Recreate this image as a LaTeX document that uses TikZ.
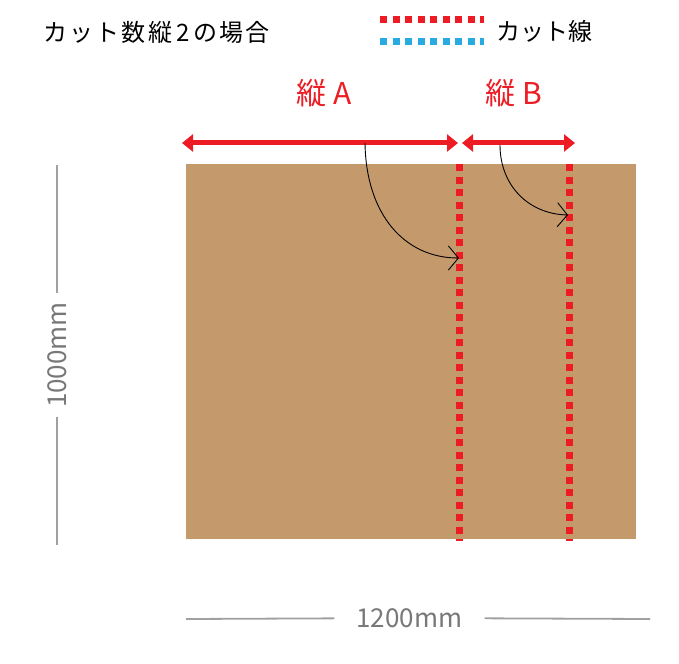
\documentclass[tikz,border=0pt]{standalone}
\usepackage{fontspec}
\setmainfont{Noto Sans CJK JP}
\usetikzlibrary{arrows.meta}
\definecolor{cardboard}{RGB}{196,154,108}
\definecolor{cutred}{RGB}{237,28,36}
\definecolor{cutblue}{RGB}{41,171,226}
\definecolor{dimline}{RGB}{160,160,160}
\definecolor{dimtext}{RGB}{120,120,120}

\begin{document}
\begin{tikzpicture}[x=1pt, y=-1pt,
  cut line/.style={line width=7pt, dash pattern=on 7pt off 5.5pt},
  span arrow/.style={draw=cutred, line width=5pt, {Triangle[length=11pt,width=17pt]}-{Triangle[length=11pt,width=17pt]}},
  turn arrow/.style={draw=black, line width=0.9pt, -{Straight Barb[length=10pt,width=24pt]}},
  dim line/.style={draw=dimline, line width=1.8pt},
  dim label/.style={text=dimtext, font=\fontsize{26}{28}\selectfont}]
\useasboundingbox (0,0) rectangle (679,663);

% title and legend
\node[anchor=west, font=\fontsize{24}{26}\selectfont\addfontfeature{LetterSpace=9}] (title) at (40,32) {カット数縦\,2\,の場合};
\draw[cut line, draw=cutred] (380,20) -- (484,20);
\draw[cut line, draw=cutblue] (380,42) -- (484,42);
\node[anchor=west, font=\fontsize{24}{26}\selectfont] (legend label) at (493,31) {カット線};

% board
\fill[cardboard] (186,164) rectangle (636,539);
\draw[cut line, draw=cutred] (459,164) -- (459,541);
\draw[cut line, draw=cutred] (569,164) -- (569,541);

% spans
\node[text=cutred, font=\fontsize{30}{32}\selectfont] (span A label) at (324,93) {縦 A};
\node[text=cutred, font=\fontsize{30}{32}\selectfont] (span B label) at (514,93) {縦 B};
\coordinate (span A left) at (182,143);
\coordinate (span A right) at (458,143);
\coordinate (span B left) at (462,143);
\coordinate (span B right) at (575,143);
\draw[span arrow] (span A left) -- (span A right);
\draw[span arrow] (span B left) -- (span B right);

\coordinate (turn A start) at (365,143);
\coordinate (turn A end) at (459,258);
\coordinate (turn B start) at (500,145);
\coordinate (turn B end) at (568,215);
\draw[turn arrow] (turn A start) .. controls (366,215) and (405,258) .. (turn A end);
\draw[turn arrow] (turn B start) .. controls (500,185) and (528,214) .. (turn B end);

% dimensions
\node[dim label, inner xsep=22pt] (width label) at (409.5,618) {1200mm};
\coordinate (width left) at (186,619);
\coordinate (width right) at (650,619);
\draw[dim line] (width left) -- (width label);
\draw[dim line] (width label) -- (width right);

\node[dim label, inner xsep=9pt, rotate=90] (height label) at (57,355) {1000mm};
\coordinate (height top) at (57,165);
\coordinate (height bottom) at (57,545);
\draw[dim line] (height top) -- (height label);
\draw[dim line] (height label) -- (height bottom);
\end{tikzpicture}
\end{document}
